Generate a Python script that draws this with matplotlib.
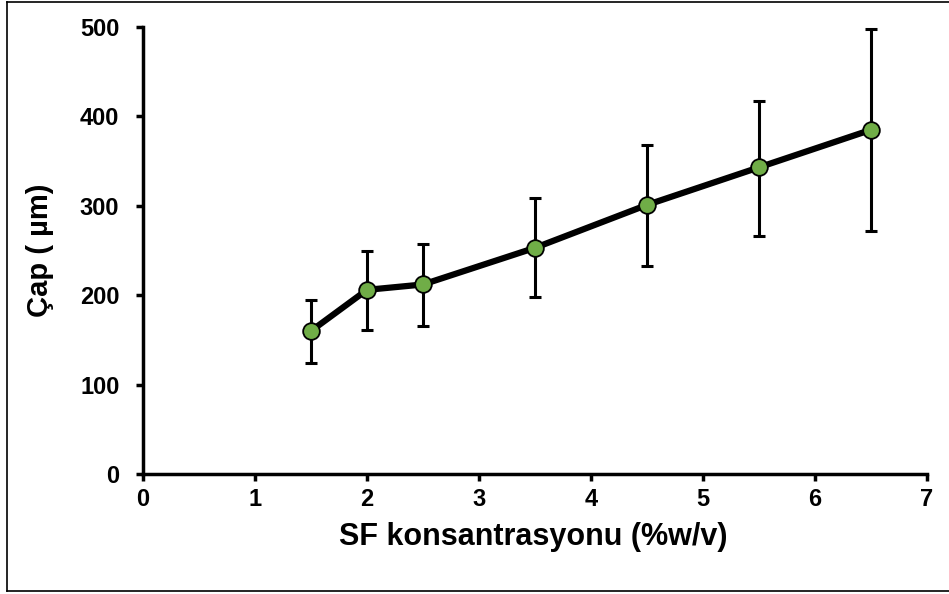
import matplotlib
matplotlib.use("Agg")
import matplotlib.pyplot as plt
from matplotlib.lines import Line2D

plt.rcParams['font.family'] = ['Liberation Sans', 'DejaVu Sans']

# Data
concentration = [1.5, 2.0, 2.5, 3.5, 4.5, 5.5, 6.5]
diameter = [160, 206, 212, 253, 301, 343, 385]
err_top = [195, 250, 257, 309, 368, 417, 498]
err_bottom = [124, 161, 165, 198, 233, 266, 272]
x_ticks = [0, 1, 2, 3, 4, 5, 6, 7]
y_ticks = [0, 100, 200, 300, 400, 500]

yerr_low = [d - b for d, b in zip(diameter, err_bottom)]
yerr_high = [t - d for t, d in zip(err_top, diameter)]

fig = plt.figure(figsize=(9.49, 5.94), dpi=100)
ax = fig.add_axes([143 / 949, 1 - 474 / 594, (927 - 143) / 949, (474 - 27) / 594])

ax.errorbar(concentration, diameter, yerr=[yerr_low, yerr_high], fmt='none',
            ecolor='black', elinewidth=2.2, capsize=4, capthick=2.2, zorder=2)
ax.plot(concentration, diameter, color='black', lw=4.5, zorder=3,
        marker='o', markersize=12, markerfacecolor='#70AD47',
        markeredgecolor='black', markeredgewidth=1.3)

ax.set_xlim(0, 7)
ax.set_ylim(0, 500)
ax.set_xticks(x_ticks)
ax.set_yticks(y_ticks)
ax.set_xticklabels([str(v) for v in x_ticks], fontsize=17, fontweight='bold')
ax.set_yticklabels([str(v) for v in y_ticks], fontsize=17, fontweight='bold')
for s in ['top', 'right']:
    ax.spines[s].set_visible(False)
for s in ['left', 'bottom']:
    ax.spines[s].set_linewidth(2.5)
ax.tick_params(axis='both', direction='out', length=5, width=2.5)
ax.tick_params(axis='y', pad=12)
ax.tick_params(axis='x', pad=5)
ax.set_xlabel('SF konsantrasyonu (%w/v)', fontsize=22, fontweight='bold', va='center')
ax.set_ylabel('Çap ( µm)', fontsize=21, fontweight='bold', va='center')
ax.xaxis.set_label_coords(0.498, -0.141)
ax.yaxis.set_label_coords(-0.132, 0.5)

# outer frame
fig.add_artist(Line2D([7 / 949, 7 / 949], [1 - 591 / 594, 1 - 1.5 / 594], color='black', lw=1.2, transform=fig.transFigure))
fig.add_artist(Line2D([7 / 949, 1], [1 - 1.5 / 594, 1 - 1.5 / 594], color='black', lw=1.2, transform=fig.transFigure))
fig.add_artist(Line2D([7 / 949, 1], [1 - 591 / 594, 1 - 591 / 594], color='black', lw=1.2, transform=fig.transFigure))

fig.savefig('out.png', dpi=100)
